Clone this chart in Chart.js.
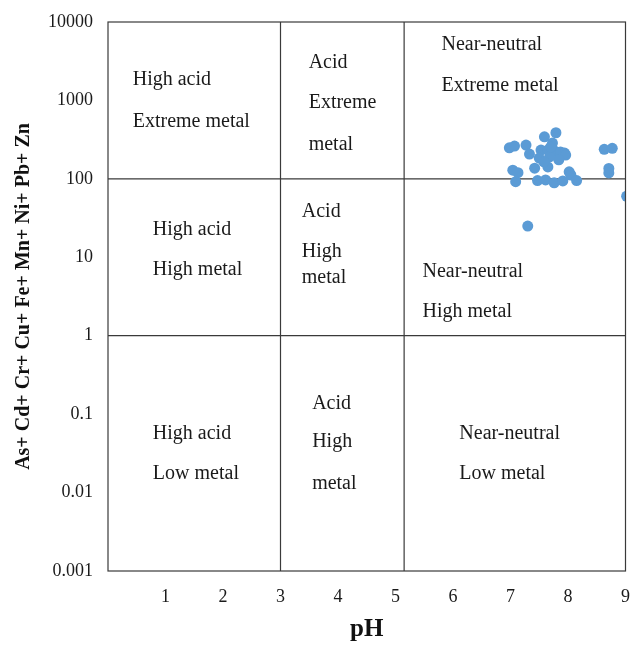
<!DOCTYPE html>
<html lang="en">
<head>
    <meta charset="UTF-8">
    <title>Metal load vs pH</title>
    <script src="https://cdn.jsdelivr.net/npm/chart.js"></script>
    <style>
        body {
            margin: 0;
            padding: 0;
            background-color: white;
        }

        .chart-box {
            width: 631px;
            height: 649px;
        }
    </style>
</head>
<body>
    <div class="chart-box">
        <canvas id="ficklinChart" width="631" height="649"></canvas>
    </div>

    <script>
        // sample points
        const samplePH = [
            6.98, 7.07, 7.27, 7.33, 7.59, 7.79, 7.73, 7.53, 7.65, 7.77,
            7.87, 7.94, 7.50, 7.68, 7.96, 7.42, 7.65, 7.04, 7.13, 7.09,
            7.47, 7.61, 7.76, 7.91, 8.02, 8.05, 8.15, 7.30, 8.63, 8.77,
            8.71, 8.71, 9.02, 7.58, 7.84, 7.70
        ];
        const sampleMetal = [
            249, 262, 270, 207, 344, 387, 286, 233, 233, 226,
            220, 213, 184, 191, 201, 137, 142, 129, 120, 92,
            95, 97, 89, 94, 123, 112, 95, 25, 238, 245,
            136, 119, 60, 165, 175, 255
        ];

        // class boundaries
        const phBounds = [3, 5.15];
        const metalBounds = [1, 100];

        const xTicks = [1, 2, 3, 4, 5, 6, 7, 8, 9];
        const yTicks = [0.001, 0.01, 0.1, 1, 10, 100, 1000, 10000];

        // region names, placed at [pH, metal]
        const regionText = [
            'High acid', 'Extreme metal',
            'Acid', 'Extreme', 'metal',
            'Near-neutral', 'Extreme metal',
            'High acid', 'High metal',
            'Acid', 'High', 'metal',
            'Near-neutral', 'High metal',
            'High acid', 'Low metal',
            'Acid', 'High', 'metal',
            'Near-neutral', 'Low metal'
        ];
        const regionPH = [
            0.43, 0.43,
            3.49, 3.49, 3.49,
            5.80, 5.80,
            0.78, 0.78,
            3.37, 3.37, 3.37,
            5.47, 5.47,
            0.78, 0.78,
            3.55, 3.55, 3.55,
            6.11, 6.11
        ];
        const regionMetal = [
            1820, 530,
            3000, 927, 270,
            5090, 1527,
            22.2, 6.87,
            37.7, 11.6, 5.43,
            6.47, 2.0,
            0.0556, 0.0172,
            0.134, 0.044, 0.0128,
            0.0556, 0.0172
        ];

        const points = samplePH.map((ph, i) => ({ x: ph, y: sampleMetal[i] }));

        const lineSets = [];
        metalBounds.forEach(v => {
            lineSets.push({
                type: 'line',
                data: [{ x: 0, y: v }, { x: 9, y: v }],
                borderColor: '#3a3a3a',
                borderWidth: 1.2,
                pointRadius: 0,
                fill: false
            });
        });
        phBounds.forEach(v => {
            lineSets.push({
                type: 'line',
                data: [{ x: v, y: 0.001 }, { x: v, y: 10000 }],
                borderColor: '#3a3a3a',
                borderWidth: 1.2,
                pointRadius: 0,
                fill: false
            });
        });

        const framePlugin = {
            id: 'frame',
            afterDatasetsDraw(chart) {
                const { ctx, chartArea, scales } = chart;
                ctx.save();
                ctx.strokeStyle = '#3a3a3a';
                ctx.lineWidth = 1.2;
                ctx.strokeRect(chartArea.left, chartArea.top,
                    chartArea.right - chartArea.left, chartArea.bottom - chartArea.top);

                ctx.fillStyle = '#1a1a1a';
                ctx.font = '20px "Liberation Serif", serif';
                ctx.textAlign = 'left';
                ctx.textBaseline = 'middle';
                regionText.forEach((t, i) => {
                    ctx.fillText(t, scales.x.getPixelForValue(regionPH[i]),
                        scales.y.getPixelForValue(regionMetal[i]));
                });
                ctx.restore();
            }
        };

        const serif = '"Liberation Serif", "Times New Roman", serif';

        new Chart(document.getElementById('ficklinChart'), {
            type: 'scatter',
            data: {
                datasets: [{
                    data: points,
                    backgroundColor: '#5b9bd5',
                    borderWidth: 0,
                    pointRadius: 5.5
                }, ...lineSets]
            },
            options: {
                responsive: false,
                animation: false,
                layout: {
                    padding: { top: 22, right: 3, left: 0, bottom: 0 }
                },
                plugins: {
                    legend: { display: false },
                    tooltip: { enabled: false }
                },
                scales: {
                    x: {
                        type: 'linear',
                        min: 0,
                        max: 9,
                        afterBuildTicks: (scale) => {
                            scale.ticks = xTicks.map(v => ({ value: v }));
                        },
                        afterFit: (scale) => {
                            scale.height = 649 - 571;
                            scale.paddingLeft = 0;
                            scale.paddingRight = 0;
                        },
                        grid: { display: false },
                        border: { display: false },
                        ticks: {
                            padding: 7,
                            maxRotation: 0,
                            color: '#1a1a1a',
                            font: { family: serif, size: 18 }
                        },
                        title: {
                            display: true,
                            text: 'pH',
                            color: '#111',
                            padding: { top: 17 },
                            font: { family: serif, size: 25, weight: 'bold' }
                        }
                    },
                    y: {
                        type: 'logarithmic',
                        min: 0.001,
                        max: 10000,
                        afterBuildTicks: (scale) => {
                            scale.ticks = yTicks.map(v => ({ value: v }));
                        },
                        afterFit: (scale) => {
                            scale.width = 108;
                        },
                        grid: { display: false },
                        border: { display: false },
                        ticks: {
                            padding: 7,
                            color: '#1a1a1a',
                            font: { family: serif, size: 18 },
                            callback: (v) => String(v)
                        },
                        title: {
                            display: true,
                            text: 'As+ Cd+ Cr+ Cu+ Fe+ Mn+ Ni+ Pb+ Zn',
                            color: '#111',
                            padding: { top: 12 },
                            font: { family: serif, size: 20, weight: 'bold' }
                        }
                    }
                }
            },
            plugins: [framePlugin]
        });
    </script>
</body>
</html>
